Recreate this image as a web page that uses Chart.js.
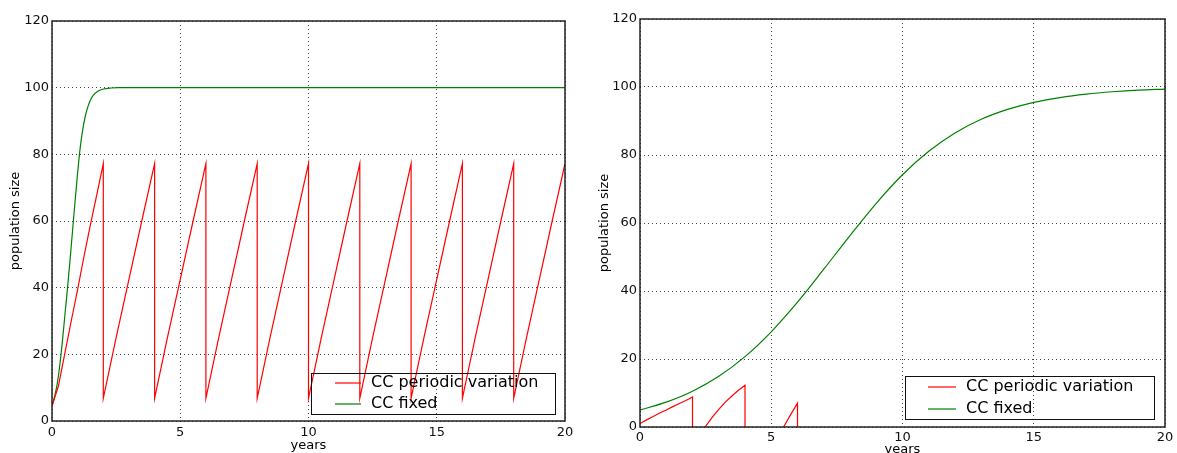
<!DOCTYPE html>
<html>
<head>
<meta charset="utf-8">
<script src="https://cdn.jsdelivr.net/npm/chart.js@4/dist/chart.umd.min.js"></script>
<style>
  html, body { margin: 0; padding: 0; background: #fff; overflow: hidden; width: 1177px; height: 453px; }
  canvas { position: absolute; top: 0; }
  #fast { left: 0; }
  #slow { left: 590px; }
</style>
</head>
<body>
<canvas id="fast" width="590" height="453"></canvas>
<canvas id="slow" width="587" height="460"></canvas>
<script>
// Fast-growth run: carrying capacity fixed vs. periodically varying
const fastFixedT = [0, 0.1, 0.2, 0.3, 0.4, 0.5, 0.6, 0.7, 0.8, 0.9, 1.0, 1.1, 1.2, 1.3, 1.4, 1.5, 1.6, 1.8, 2.0, 2.3, 2.6, 20];
const fastFixedN = [4.5, 7.3, 11, 16.5, 23.5, 31.5, 39.5, 48, 57, 66, 74.5, 82, 87.5, 91.5, 94.3, 96.3, 97.6, 99, 99.6, 99.9, 100, 100];

const fastPeriodicT = [
  0, 0.25, 0.5, 0.75, 1, 1.25, 1.5, 1.75, 2,
  2, 2.5, 3, 3.5, 4,
  4, 4.5, 5, 5.5, 6,
  6, 6.5, 7, 7.5, 8,
  8, 8.5, 9, 9.5, 10,
  10, 10.5, 11, 11.5, 12,
  12, 12.5, 13, 13.5, 14,
  14, 14.5, 15, 15.5, 16,
  16, 16.5, 17, 17.5, 18,
  18, 18.5, 19, 19.5, 20
];
const fastPeriodicN = [
  4.5, 10.5, 20.3, 30, 39.5, 49.5, 59, 68, 77.2,
  6.8, 25, 42.5, 60, 77.2,
  6.8, 25, 42.5, 60, 77.2,
  6.8, 25, 42.5, 60, 77.2,
  6.8, 25, 42.5, 60, 77.2,
  6.8, 25, 42.5, 60, 77.2,
  6.8, 25, 42.5, 60, 77.2,
  6.8, 25, 42.5, 60, 77.2,
  6.8, 25, 42.5, 60, 77.2,
  6.8, 25, 42.5, 60, 77.2
];

// Slow-growth run
const slowFixedT = [0, 1, 2, 3, 4, 5, 6, 7, 8, 9, 10, 11, 12, 13, 14, 15, 16, 17, 18, 19, 20];
const slowFixedN = [5, 7.3, 10.5, 14.9, 20.7, 28, 36.7, 46.4, 56.3, 65.8, 74.2, 81.1, 86.5, 90.5, 93.4, 95.5, 96.9, 97.9, 98.6, 99.1, 99.4];

const slowPeriodicT = [0, 0.25, 0.5, 0.75, 1, 1.25, 1.5, 1.75, 2, 2, 2.48, 2.75, 3, 3.25, 3.5, 3.75, 4, 4, 5.47, 5.75, 6, 6];
const slowPeriodicN = [1.0, 2.1, 3.1, 4.1, 5.0, 6.0, 6.9, 7.8, 8.8, -3, 0, 2.8, 5.2, 7.3, 9.1, 10.8, 12.3, -6, 0, 3.8, 7.0, -8];

const yearTicks = [0, 5, 10, 15, 20];
const sizeTicks = [0, 20, 40, 60, 80, 100, 120];

const labelPeriodic = 'CC periodic variation';
const labelFixed = 'CC fixed';

Chart.defaults.font.family = '"DejaVu Sans", "Bitstream Vera Sans", sans-serif';
Chart.defaults.color = '#111';

const pts = (xs, ys) => xs.map((x, i) => ({ x, y: ys[i] }));

// Plot frame drawn on all four sides of the plotting area
const framePlugin = {
  id: 'frame',
  afterDraw(chart) {
    const a = chart.chartArea, ctx = chart.ctx;
    ctx.save();
    ctx.strokeStyle = '#222';
    ctx.lineWidth = 1.5;
    ctx.strokeRect(a.left, a.top, a.right - a.left, a.bottom - a.top);
    ctx.restore();
  }
};

// Boxed legend in the lower-right corner of the plotting area
const boxLegendPlugin = {
  id: 'boxLegend',
  afterDraw(chart, args, o) {
    const a = chart.chartArea, ctx = chart.ctx;
    const x0 = Math.round(a.right - o.right - o.width);
    const y0 = Math.round(a.bottom - o.bottom - o.height);
    ctx.save();
    ctx.strokeStyle = '#111';
    ctx.lineWidth = 1;
    ctx.strokeRect(x0 + 0.5, y0 + 0.5, o.width, o.height);
    ctx.font = o.fontSize + 'px "DejaVu Sans", sans-serif';
    ctx.textBaseline = 'middle';
    ctx.fillStyle = '#000';
    chart.data.datasets.forEach((ds, i) => {
      const y = y0 + o.firstRow + i * o.rowGap;
      ctx.strokeStyle = ds.borderColor;
      ctx.lineWidth = ds.borderWidth;
      ctx.beginPath();
      ctx.moveTo(x0 + o.lineStart, y);
      ctx.lineTo(x0 + o.lineStart + o.lineLen, y);
      ctx.stroke();
      ctx.fillText(ds.label, x0 + o.textStart, y);
    });
    ctx.restore();
  }
};

function makeChart(id, periodic, fixed, geom) {
  return new Chart(document.getElementById(id), {
    type: 'line',
    data: {
      datasets: [
        {
          label: labelPeriodic,
          data: periodic,
          borderColor: '#ff0000',
          borderWidth: 1.2,
          pointRadius: 0,
          tension: 0,
          fill: false
        },
        {
          label: labelFixed,
          data: fixed,
          borderColor: '#008000',
          borderWidth: 1.2,
          pointRadius: 0,
          cubicInterpolationMode: 'monotone',
          fill: false
        }
      ]
    },
    options: {
      responsive: false,
      animation: false,
      devicePixelRatio: 1,
      layout: { padding: { top: geom.top, right: geom.right, left: 0, bottom: 0 } },
      plugins: {
        legend: { display: false },
        tooltip: { enabled: false },
        boxLegend: geom.legend
      },
      scales: {
        x: {
          type: 'linear',
          min: 0, max: 20,
          afterBuildTicks: s => { s.ticks = yearTicks.map(v => ({ value: v })); },
          afterFit: s => { s.height = geom.xHeight; },
          grid: { color: 'rgba(0,0,0,0.75)', lineWidth: 1, drawTicks: false },
          border: { display: false, dash: [1, 3] },
          ticks: { padding: geom.xTickPad, font: { size: geom.tickSize }, color: '#111', maxRotation: 0 },
          title: { display: true, text: 'years', font: { size: 13 }, color: '#000', padding: { top: 0, bottom: geom.xTitlePad } }
        },
        y: {
          min: 0, max: 120,
          afterBuildTicks: s => { s.ticks = sizeTicks.map(v => ({ value: v })); },
          afterFit: s => { s.width = geom.yWidth; },
          grid: { color: 'rgba(0,0,0,0.75)', lineWidth: 1, drawTicks: false },
          border: { display: false, dash: [1, 3] },
          ticks: { padding: 3, font: { size: geom.tickSize }, color: '#111' },
          title: { display: true, text: 'population size', font: { size: 13 }, color: '#000', padding: { top: geom.yTitlePad, bottom: 0 } }
        }
      }
    },
    plugins: [framePlugin, boxLegendPlugin]
  });
}

makeChart('fast', pts(fastPeriodicT, fastPeriodicN), pts(fastFixedT, fastFixedN), {
  top: 21, right: 25, xHeight: 32, yWidth: 52, xTickPad: 4, tickSize: 13,
  xTitlePad: 0, yTitlePad: 8,
  legend: { width: 244, height: 41, right: 10, bottom: 7, firstRow: 10, rowGap: 21,
            lineStart: 24, lineLen: 26, textStart: 60, fontSize: 16 }
});

makeChart('slow', pts(slowPeriodicT, slowPeriodicN), pts(slowFixedT, slowFixedN), {
  top: 19, right: 12, xHeight: 33, yWidth: 50, xTickPad: 3, tickSize: 13,
  xTitlePad: 3, yTitlePad: 7,
  legend: { width: 249, height: 43, right: 11, bottom: 8, firstRow: 11, rowGap: 22,
            lineStart: 23, lineLen: 28, textStart: 61, fontSize: 16 }
});
</script>
</body>
</html>
